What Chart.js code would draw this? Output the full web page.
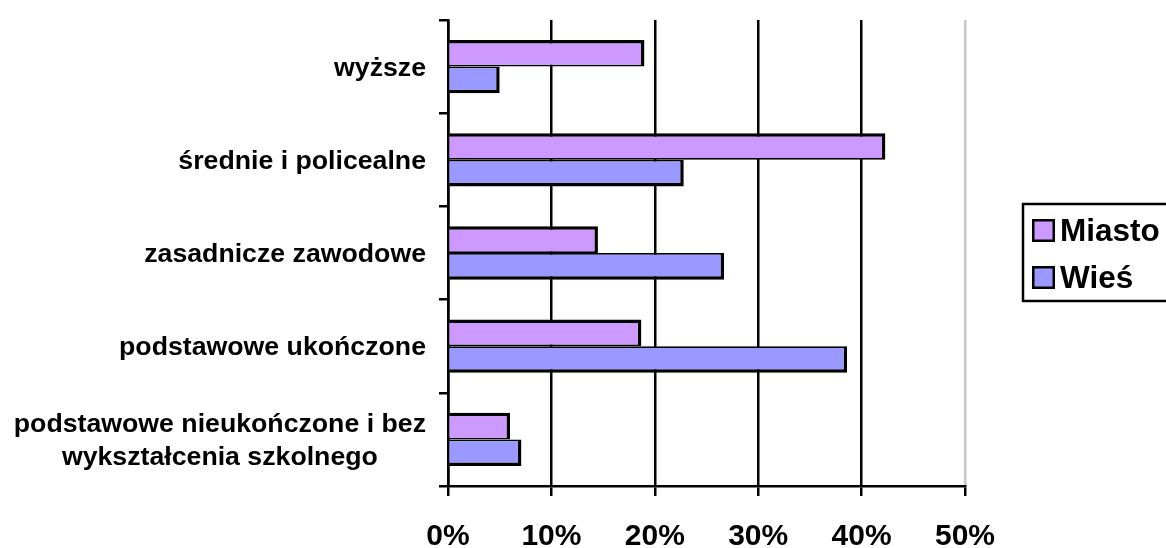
<!DOCTYPE html>
<html>
<head>
<meta charset="utf-8">
<script src="https://cdn.jsdelivr.net/npm/chart.js@4"></script>
<style>
  html, body { margin: 0; padding: 0; background: #fff; }
  #wrap { width: 1166px; height: 548px; }
</style>
</head>
<body>
<div id="wrap"><canvas id="eduChart" width="1166" height="548"></canvas></div>
<script>
// categories, top to bottom (multi-line labels as arrays)
const categories = [
  ['wyższe'],
  ['średnie i policealne'],
  ['zasadnicze zawodowe'],
  ['podstawowe ukończone'],
  ['podstawowe nieukończone i bez', 'wykształcenia szkolnego']
];
const miasto = [19.0, 42.3, 14.5, 18.7, 6.0];
const wies = [5.0, 22.8, 26.7, 38.6, 7.1];
const xTicks = [0, 10, 20, 30, 40, 50];
const seriesNames = ['Miasto', 'Wieś'];
const seriesColors = ['#CC99FF', '#9999FF'];

const FONT = 'Arial, "Liberation Sans", sans-serif';

function drawText(ctx, text, x, y, size, align) {
  ctx.save();
  ctx.font = 'bold ' + size + 'px ' + FONT;
  ctx.textBaseline = 'alphabetic';
  ctx.textAlign = align;
  ctx.fillStyle = '#000';
  ctx.fillText(text, x, y);
  ctx.restore();
}

function textWidth(ctx, text, size) {
  ctx.save();
  ctx.font = 'bold ' + size + 'px ' + FONT;
  const w = ctx.measureText(text).width;
  ctx.restore();
  return w;
}

// axis labels + boxed legend, drawn by hand
const textPlugin = {
  id: 'textPlugin',
  afterDraw(chart) {
    const ctx = chart.ctx;
    const xs = chart.scales.x;
    const ys = chart.scales.y;

    // category labels: block right-aligned, lines centered inside it
    const ySize = 26.7, lineGap = 33;
    const rightEdge = ys.right - 22;
    categories.forEach((lines, i) => {
      const cy = ys.getPixelForValue(i);
      const blockW = Math.max(...lines.map(l => textWidth(ctx, l, ySize)));
      const cx = rightEdge - blockW / 2;
      const first = cy - (lines.length - 1) * lineGap / 2;
      lines.forEach((l, j) => {
        drawText(ctx, l, cx, first + j * lineGap + 9, ySize, 'center');
      });
    });

    // value axis labels
    xTicks.forEach(v => {
      drawText(ctx, v + '%', xs.getPixelForValue(v), 545, 30, 'center');
    });

    // legend
    ctx.save();
    ctx.strokeStyle = '#000';
    ctx.lineWidth = 2.5;
    ctx.strokeRect(1023, 204, 200, 97);
    seriesNames.forEach((name, i) => {
      const top = 219 + i * 47;
      ctx.fillStyle = seriesColors[i];
      ctx.fillRect(1032, top, 23, 23);
      ctx.lineWidth = 2.5;
      ctx.strokeRect(1033.25, top + 1.25, 20.5, 20.5);
      drawText(ctx, name, 1060, top + 22, 31.5, 'left');
    });
    ctx.restore();
  }
};

new Chart(document.getElementById('eduChart'), {
  type: 'bar',
  data: {
    labels: categories,
    datasets: [
      {
        label: seriesNames[0],
        data: miasto,
        backgroundColor: seriesColors[0],
        borderColor: '#000',
        borderWidth: { top: 3.5, right: 3.5, bottom: 1.75, left: 0 },
        barPercentage: 1,
        categoryPercentage: 0.572
      },
      {
        label: seriesNames[1],
        data: wies,
        backgroundColor: seriesColors[1],
        borderColor: '#000',
        borderWidth: { top: 1.75, right: 3.5, bottom: 3.5, left: 0 },
        barPercentage: 1,
        categoryPercentage: 0.572
      }
    ]
  },
  options: {
    indexAxis: 'y',
    responsive: false,
    animation: false,
    devicePixelRatio: 1,
    layout: { padding: { top: 20, right: 201, left: 0, bottom: 0 } },
    plugins: {
      legend: { display: false },
      tooltip: { enabled: false }
    },
    scales: {
      x: {
        min: 0,
        max: 50,
        ticks: { stepSize: 10, display: false },
        grid: {
          color: c => (c.tick && c.tick.value === 50 ? '#c8c8c8' : '#000'),
          lineWidth: 2.5,
          tickLength: 10,
          tickColor: '#000',
          tickWidth: 2.5
        },
        border: { color: '#000', width: 2.5 },
        afterFit: s => { s.height = 62; }
      },
      y: {
        ticks: { display: false },
        grid: {
          offset: true,
          drawOnChartArea: false,
          tickLength: 9,
          color: '#000',
          lineWidth: 2.5
        },
        border: { color: '#000', width: 2.5 },
        afterFit: s => { s.width = 448; }
      }
    }
  },
  plugins: [textPlugin]
});
</script>
</body>
</html>
